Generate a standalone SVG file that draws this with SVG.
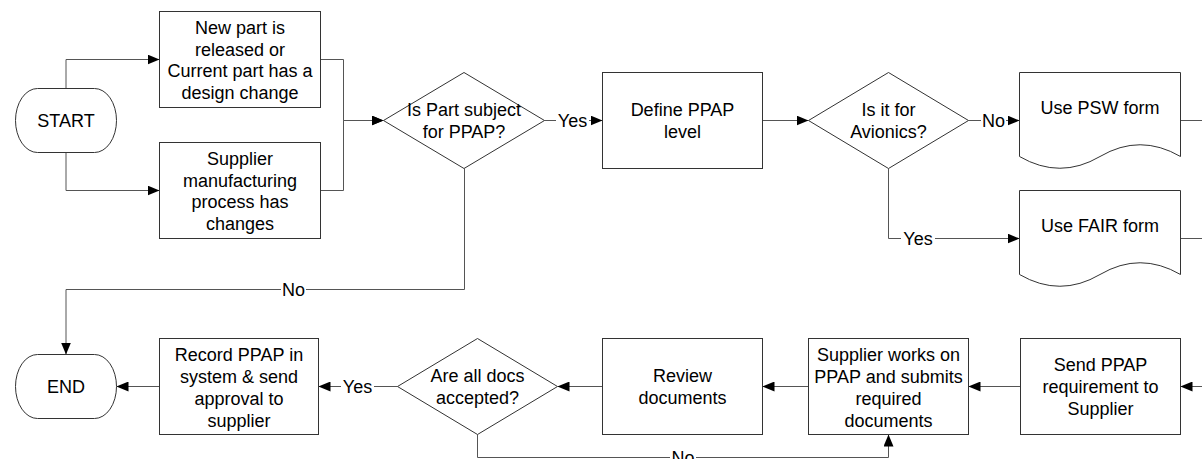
<svg xmlns="http://www.w3.org/2000/svg" width="1202" height="459" viewBox="0 0 1202 459">
<defs>
<style>
.s{fill:#fff;stroke:#333;stroke-width:1}
.c{fill:none;stroke:#555;stroke-width:1}
.t{font-family:"Liberation Sans",Arial,sans-serif;font-size:18px;fill:#000;text-anchor:middle}
.lb{fill:#fff;stroke:none}
</style>
<marker id="ah" markerWidth="12" markerHeight="10" refX="12" refY="5" orient="auto" markerUnits="userSpaceOnUse"><path d="M0,0 L12,5 L0,10 z" fill="#000"/></marker>
</defs>
<rect width="1202" height="459" fill="#fff"/>
<g id="connectors">
<path class="c" d="M66,88.5 V59.5 H159.5" marker-end="url(#ah)"/>
<path class="c" d="M66,152.5 V190.5 H159.5" marker-end="url(#ah)"/>
<path class="c" d="M320.5,59.5 H343.5 V120.5 H383.5" marker-end="url(#ah)"/>
<path class="c" d="M320.5,190.5 H343.5 V120.5 H383.5" marker-end="url(#ah)"/>
<path class="c" d="M544.5,120.5 H602.5" marker-end="url(#ah)"/>
<path class="c" d="M464.5,168.5 V289.5 H66 V354.5" marker-end="url(#ah)"/>
<path class="c" d="M762.5,120.5 H808.5" marker-end="url(#ah)"/>
<path class="c" d="M968.5,120.5 H1019.5" marker-end="url(#ah)"/>
<path class="c" d="M888.5,168.5 V238.5 H1019.5" marker-end="url(#ah)"/>
<path class="c" d="M1180.5,120.5 H1202"/>
<path class="c" d="M1180.5,238.5 H1202"/>
<path class="c" d="M1202,386.5 H1180.5" marker-end="url(#ah)"/>
<path class="c" d="M1020.5,386.5 H968.5" marker-end="url(#ah)"/>
<path class="c" d="M808.5,386.5 H762.5" marker-end="url(#ah)"/>
<path class="c" d="M602.5,386.5 H557.5" marker-end="url(#ah)"/>
<path class="c" d="M397.5,386.5 H318.5" marker-end="url(#ah)"/>
<path class="c" d="M159.5,386.5 H116.5" marker-end="url(#ah)"/>
<path class="c" d="M477.5,434.5 V457.5 H888.5 V434.5" marker-end="url(#ah)"/>
<rect class="lb" x="556" y="112" width="33" height="17"/>
<text class="t" x="572.5" y="127">Yes</text>
<rect class="lb" x="281" y="281" width="25" height="17"/>
<text class="t" x="293.5" y="296">No</text>
<rect class="lb" x="981" y="112" width="25" height="17"/>
<text class="t" x="993.5" y="127">No</text>
<rect class="lb" x="901" y="230" width="34" height="17"/>
<text class="t" x="918" y="245">Yes</text>
<rect class="lb" x="341" y="378" width="33" height="17"/>
<text class="t" x="357.5" y="393">Yes</text>
<rect class="lb" x="670" y="449" width="26" height="10"/>
<text class="t" x="683" y="464">No</text>
</g>
<g id="start">
<rect class="s" x="15.5" y="88.5" width="101" height="64" rx="22" ry="32"/>
<text class="t" x="66" y="127">START</text>
</g>
<g id="new-part">
<rect class="s" x="159.5" y="11.5" width="161" height="96"/>
<text class="t"><tspan x="240" y="34">New part is</tspan><tspan x="240" y="55.5">released or</tspan><tspan x="240" y="77">Current part has a</tspan><tspan x="240" y="98.5">design change</tspan></text>
</g>
<g id="supplier-process">
<rect class="s" x="159.5" y="142.5" width="161" height="96"/>
<text class="t"><tspan x="240" y="165">Supplier</tspan><tspan x="240" y="186.5">manufacturing</tspan><tspan x="240" y="208">process has</tspan><tspan x="240" y="229.5">changes</tspan></text>
</g>
<g id="is-ppap">
<polygon class="s" points="383.5,120.5 464,72.5 544.5,120.5 464,168.5"/>
<text class="t"><tspan x="464" y="115.5">Is Part subject</tspan><tspan x="464" y="137.5">for PPAP?</tspan></text>
</g>
<g id="define-level">
<rect class="s" x="602.5" y="72.5" width="160" height="96"/>
<text class="t"><tspan x="682.5" y="115.5">Define PPAP</tspan><tspan x="682.5" y="137.5">level</tspan></text>
</g>
<g id="avionics">
<polygon class="s" points="808.5,120.5 888.5,72.5 968.5,120.5 888.5,168.5"/>
<text class="t"><tspan x="888.5" y="115.5">Is it for</tspan><tspan x="888.5" y="137.5">Avionics?</tspan></text>
</g>
<g id="psw">
<path class="s" d="M1019.5,72.5 H1180.5 V156.5 Q1140,133 1100,156.5 Q1060,180 1019.5,156.5 Z"/>
<text class="t" x="1100" y="113.5">Use PSW form</text>
</g>
<g id="fair">
<path class="s" d="M1019.5,190.5 H1180.5 V274.5 Q1140,251 1100,274.5 Q1060,298 1019.5,274.5 Z"/>
<text class="t" x="1100" y="231.5">Use FAIR form</text>
</g>
<g id="end">
<rect class="s" x="15.5" y="354.5" width="101" height="64" rx="22" ry="32"/>
<text class="t" x="66" y="393">END</text>
</g>
<g id="record">
<rect class="s" x="159.5" y="338.5" width="159" height="96"/>
<text class="t"><tspan x="239" y="360.5">Record PPAP in</tspan><tspan x="239" y="382.5">system &amp; send</tspan><tspan x="239" y="404.5">approval to</tspan><tspan x="239" y="426.5">supplier</tspan></text>
</g>
<g id="accepted">
<polygon class="s" points="397.5,386.5 477.5,338.5 557.5,386.5 477.5,434.5"/>
<text class="t"><tspan x="477.5" y="381.5">Are all docs</tspan><tspan x="477.5" y="403.5">accepted?</tspan></text>
</g>
<g id="review">
<rect class="s" x="602.5" y="338.5" width="160" height="96"/>
<text class="t"><tspan x="682.5" y="381.5">Review</tspan><tspan x="682.5" y="403.5">documents</tspan></text>
</g>
<g id="supplier-works">
<rect class="s" x="808.5" y="338.5" width="160" height="96"/>
<text class="t"><tspan x="888.5" y="360.5">Supplier works on</tspan><tspan x="888.5" y="382.5">PPAP and submits</tspan><tspan x="888.5" y="404.5">required</tspan><tspan x="888.5" y="426.5">documents</tspan></text>
</g>
<g id="send">
<rect class="s" x="1020.5" y="338.5" width="160" height="96"/>
<text class="t"><tspan x="1100.5" y="370.5">Send PPAP</tspan><tspan x="1100.5" y="392.5">requirement to</tspan><tspan x="1100.5" y="414.5">Supplier</tspan></text>
</g>
</svg>
